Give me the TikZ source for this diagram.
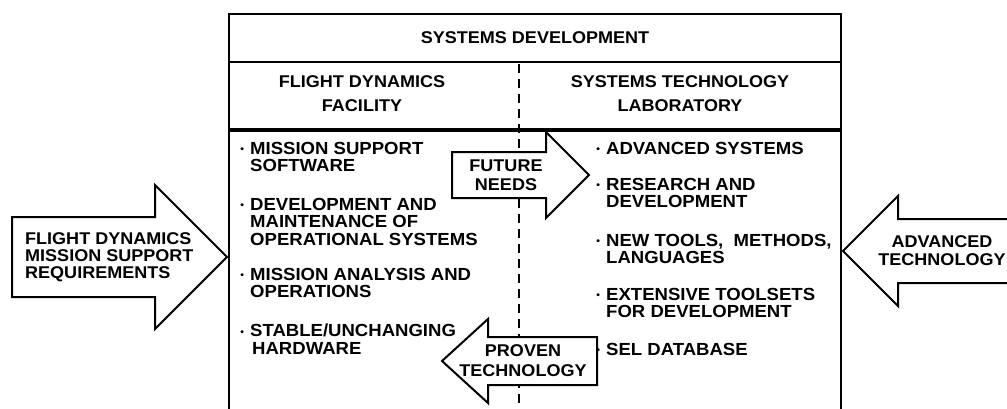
\documentclass[tikz,border=0pt]{standalone}
\usepackage{fontspec}
\setmainfont{Liberation Sans}[FakeStretch=1.06]
\usepackage{tikz}
\newcommand{\dotitem}{\makebox[10.5pt][l]{\hspace{0.6pt}\fontsize{10}{10}\selectfont\raisebox{1.4pt}{\textbullet}}}
\newcommand{\dotskip}{\hspace*{10.5pt}}
\tikzstyle{item} = [anchor=north west, align=left, inner sep=0pt, font=\bfseries\fontsize{17.5}{17.5}\selectfont]
\tikzstyle{head} = [align=center, inner sep=0pt, font=\bfseries\fontsize{17}{24}\selectfont]
\tikzstyle{tag} = [align=center, inner sep=0pt, font=\bfseries\fontsize{17}{19}\selectfont]
\tikzstyle{blk} = [draw, line width=2pt, fill=white, line join=miter]
\tikzstyle{rule} = [line width=2pt]

\begin{document}
\begin{tikzpicture}[x=1pt, y=-1pt]
  \useasboundingbox (0,0) rectangle (1007,408);
  \clip (0,0) rectangle (1007,408);
  \fill [white] (0,0) rectangle (1007,408);

  \draw [rule] (229,430) -- (229,14) -- (841,14) -- (841,430);
  \draw [rule] (229,62) -- (841,62);
  \draw [line width=4.5pt] (229,130) -- (841,130);
  \draw [rule, dash pattern=on 9pt off 6pt] (519,64) -- (519,430);

  \node (a) at (535,38) [head] {SYSTEMS DEVELOPMENT};
  \node (b) at (362,94) [head] {FLIGHT DYNAMICS\\FACILITY};
  \node (c) at (680,94) [head] {SYSTEMS TECHNOLOGY\\LABORATORY};

  \node (d) at (239.5,141.7) [item] {\dotitem MISSION SUPPORT\\\dotskip SOFTWARE};
  \node (e) at (239.5,197.7) [item] {\dotitem DEVELOPMENT AND\\\dotskip MAINTENANCE OF\\\dotskip OPERATIONAL SYSTEMS};
  \node (f) at (239.5,267.7) [item] {\dotitem MISSION ANALYSIS AND\\\dotskip OPERATIONS};
  \node (g) at (239.5,323.7) [item] {\dotitem STABLE/UNCHANGING\\\dotskip\hspace{2pt}HARDWARE};

  \node (h) at (595.5,141.7) [item] {\dotitem ADVANCED SYSTEMS};
  \node (i) at (595.5,177.7) [item] {\dotitem RESEARCH AND\\\dotskip DEVELOPMENT};
  \node (j) at (595.5,233.7) [item] {\dotitem NEW TOOLS,\ \ METHODS,\\\dotskip LANGUAGES};
  \node (k) at (595.5,287.7) [item] {\dotitem EXTENSIVE TOOLSETS\\\dotskip FOR DEVELOPMENT};
  \node (l) at (595.5,342.7) [item] {\dotitem SEL DATABASE};

  \draw [blk] (452,152) -- (546,152) -- (546,132) -- (589,175) -- (546,218) -- (546,198) -- (452,198) -- cycle;
  \node (m) at (506,175) [tag] {FUTURE\\NEEDS};

  \draw [blk] (597,337) -- (488,337) -- (488,319) -- (442,361) -- (488,403) -- (488,385) -- (597,385) -- cycle;
  \node (n) at (523,361) [tag, font=\bfseries\fontsize{17}{20}\selectfont] {PROVEN\\TECHNOLOGY};

  \draw [blk] (12,217) -- (155,217) -- (155,185) -- (227,257) -- (155,329) -- (155,297) -- (12,297) -- cycle;
  \node (o) at (25,257.5) [tag, anchor=west, align=left, font=\bfseries\fontsize{17}{16.8}\selectfont] {FLIGHT DYNAMICS\\MISSION SUPPORT\\REQUIREMENTS};

  \draw [blk] (1020,219) -- (898,219) -- (898,196) -- (843,251) -- (898,306) -- (898,283) -- (1020,283) -- cycle;
  \node (p) at (942,250.5) [tag, font=\bfseries\fontsize{17}{18}\selectfont] {ADVANCED\\TECHNOLOGY};
\end{tikzpicture}
\end{document}
